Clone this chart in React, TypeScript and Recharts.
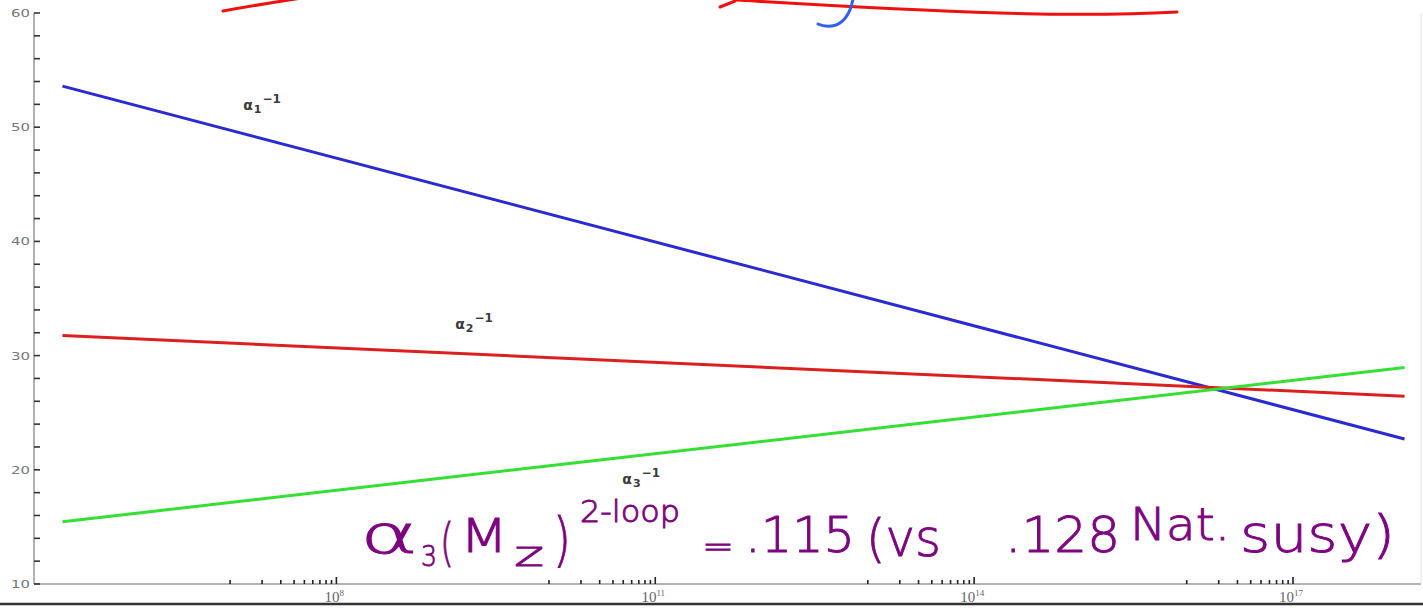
import React from "react";
import { LineChart, Line, XAxis, YAxis, ReferenceDot } from "recharts";

// Energy scale (GeV) at the two ends of each running coupling
const energyScale = [2.65e5, 1.12e18];
// Inverse couplings at those energies
const alpha1Inv = [53.6, 22.7];
const alpha2Inv = [31.75, 26.45];
const alpha3Inv = [15.45, 28.95];

// Axis ranges and ticks
const xDomain = [1.43e5, 1.6e18];
const majorExponents = [8, 11, 14, 17];
const minorMultipliers = [1, 2, 3, 4, 5, 6, 7, 8, 9];
const yDomain = [10, 60];
const yTicks = [10, 12, 14, 16, 18, 20, 22, 24, 26, 28, 30, 32, 34, 36, 38, 40, 42, 44, 46, 48, 50, 52, 54, 56, 58, 60];

// Curve labels: subscript index and anchor point (energy, value)
const curveLabelIndex = ["1", "2", "3"];
const curveLabelX = [1.33e7, 1.31e9, 4.9e10];
const curveLabelY = [51.5, 32.3, 18.75];

const rows = energyScale.map((x, i) => ({
  x,
  a1: alpha1Inv[i],
  a2: alpha2Inv[i],
  a3: alpha3Inv[i],
}));

const xTicks: number[] = [];
majorExponents.forEach((e) => {
  minorMultipliers.forEach((m) => xTicks.push(m * Math.pow(10, e - 1)));
  xTicks.push(Math.pow(10, e));
});

const majorExpOf = (v: number): number | null => {
  const l = Math.log10(v);
  const r = Math.round(l);
  if (Math.abs(l - r) < 1e-6 && majorExponents.includes(r)) return r;
  return null;
};

const BottomTick = (props: any) => {
  const { x, y, payload } = props;
  const exp = majorExpOf(payload.value);
  const len = exp !== null ? 7 : 4;
  return (
    <g>
      <line x1={x} x2={x} y1={y} y2={y - len} stroke="#222" strokeWidth={1.6} />
      {exp !== null && (
        <text
          x={x - 2}
          y={y + 18}
          textAnchor="middle"
          fill="#666"
          style={{ fontSize: 15, fontFamily: "'Liberation Serif', serif" }}
        >
          10
          <tspan dy={-6} style={{ fontSize: 9 }}>
            {exp}
          </tspan>
        </text>
      )}
    </g>
  );
};

const TopTick = (props: any) => {
  const { x, y, payload } = props;
  const exp = majorExpOf(payload.value);
  const len = exp !== null ? 7 : 4;
  return <line x1={x} x2={x} y1={y} y2={y + len} stroke="#333" strokeWidth={1.4} />;
};

const LeftTick = (props: any) => {
  const { x, y, payload } = props;
  const major = payload.value % 10 === 0;
  return (
    <g>
      <line x1={x} x2={x + 6} y1={y} y2={y} stroke="#333" strokeWidth={1.6} />
      {major && (
        <text
          x={x - 4}
          y={y + 4}
          textAnchor="end"
          fill="#777"
          style={{ fontSize: 11, fontFamily: "'DejaVu Sans', sans-serif" }}
          textLength={19}
          lengthAdjust="spacingAndGlyphs"
        >
          {payload.value}
        </text>
      )}
    </g>
  );
};

const RightTick = (props: any) => {
  const { x, y } = props;
  return <line x1={x} x2={x - 5} y1={y} y2={y} stroke="#ddd" strokeWidth={1.2} />;
};

const curveLabel = (idx: string) => (p: any) => {
  const vb = p.viewBox || {};
  return (
    <text
      x={vb.x}
      y={vb.y}
      fill="#3a3a3a"
      fontWeight="bold"
      style={{ fontSize: 14, fontFamily: "'DejaVu Sans', sans-serif" }}
    >
      <tspan>α</tspan>
      <tspan dx={1} dy={3} style={{ fontSize: 11 }}>
        {idx}
      </tspan>
      <tspan dx={1} dy={-10} style={{ fontSize: 12 }}>
        −1
      </tspan>
    </text>
  );
};

const ink = "#7d0580";
const handFont = "'DejaVu Sans', sans-serif";

// Handwritten note over the plot
const Note = () => {
  const seg = (t: string, x: number, y: number, fs: number, tl: number) => (
    <text
      x={x}
      y={y}
      fill={ink}
      stroke={ink}
      strokeWidth={0.9}
      style={{ fontSize: fs, fontFamily: handFont, fontWeight: 200 }}
      textLength={tl}
      lengthAdjust="spacingAndGlyphs"
    >
      {t}
    </text>
  );
  return (
    <svg
      width={1423}
      height={608}
      style={{ position: "absolute", left: 0, top: 0, pointerEvents: "none" }}
    >
      {seg("α", 360, 553, 54, 58)}
      {seg("3", 421, 566, 28, 16)}
      {seg("(", 440, 560, 52, 14)}
      {seg("M", 460, 552, 46, 48)}
      {seg("z", 514, 566, 34, 30)}
      {seg(")", 553, 560, 58, 18)}
      {seg("2-loop", 580, 522, 30, 100)}
      {seg("=", 702, 558, 34, 32)}
      {seg(".115", 745, 552, 50, 110)}
      {seg("(vs", 866, 556, 52, 75)}
      {seg(".128", 1005, 552, 50, 115)}
      {seg("Nat.", 1130, 540, 44, 100)}
      {seg("susy)", 1240, 552, 52, 155)}
      <g fill="none" strokeLinecap="round" strokeWidth={3}>
        <path d="M223,11 Q262,4 302,-2" stroke="#f01010" />
        <path d="M720,7 L735,1" stroke="#f01010" />
        <path d="M737,0 Q900,10 1000,13 Q1100,16 1177,12" stroke="#f01010" />
        <path d="M853,-1 Q849,20 836,25 Q826,28 818,24" stroke="#3060f0" />
      </g>
      <line x1={0} x2={1423} y1={604} y2={604} stroke="#333" strokeWidth={2.5} />
    </svg>
  );
};

export default function App() {
  return (
    <div style={{ position: "relative", width: 1423, height: 608, background: "#fff" }}>
      <style>{`body{margin:0;}`}</style>
      <LineChart
        width={1423}
        height={608}
        data={rows}
        margin={{ top: 13, right: 0, bottom: 4, left: 0 }}
      >
        <XAxis
          dataKey="x"
          type="number"
          scale="log"
          domain={xDomain}
          allowDataOverflow
          ticks={xTicks}
          interval={0}
          tick={<BottomTick />}
          tickLine={false}
          tickSize={0}
          tickMargin={0}
          height={20}
          axisLine={{ stroke: "#999", strokeWidth: 1.5 }}
        />
        <XAxis
          xAxisId="top"
          orientation="top"
          dataKey="x"
          type="number"
          scale="log"
          domain={xDomain}
          allowDataOverflow
          ticks={xTicks}
          interval={0}
          tick={<TopTick />}
          tickLine={false}
          tickSize={0}
          tickMargin={0}
          height={0}
          axisLine={{ stroke: "#999", strokeWidth: 1.5 }}
        />
        <YAxis
          type="number"
          domain={yDomain}
          ticks={yTicks}
          interval={0}
          tick={<LeftTick />}
          tickLine={false}
          tickSize={0}
          tickMargin={0}
          width={34}
          axisLine={{ stroke: "#999", strokeWidth: 1.5 }}
        />
        <YAxis
          yAxisId="right"
          orientation="right"
          type="number"
          domain={yDomain}
          ticks={yTicks}
          interval={0}
          tick={<RightTick />}
          tickLine={false}
          tickSize={0}
          tickMargin={0}
          width={2}
          axisLine={{ stroke: "#e4e4e4", strokeWidth: 1 }}
        />
        <Line dataKey="a1" type="linear" stroke="#2a2ad2" strokeWidth={3} dot={false} isAnimationActive={false} />
        <Line dataKey="a2" type="linear" stroke="#dc2020" strokeWidth={3} dot={false} isAnimationActive={false} />
        <Line dataKey="a3" type="linear" stroke="#33e033" strokeWidth={3} dot={false} isAnimationActive={false} />
        {curveLabelIndex.map((idx, i) => (
          <ReferenceDot
            key={idx}
            x={curveLabelX[i]}
            y={curveLabelY[i]}
            r={0}
            fill="none"
            stroke="none"
            label={{ content: curveLabel(idx) }}
          />
        ))}
      </LineChart>
      <Note />
    </div>
  );
}
